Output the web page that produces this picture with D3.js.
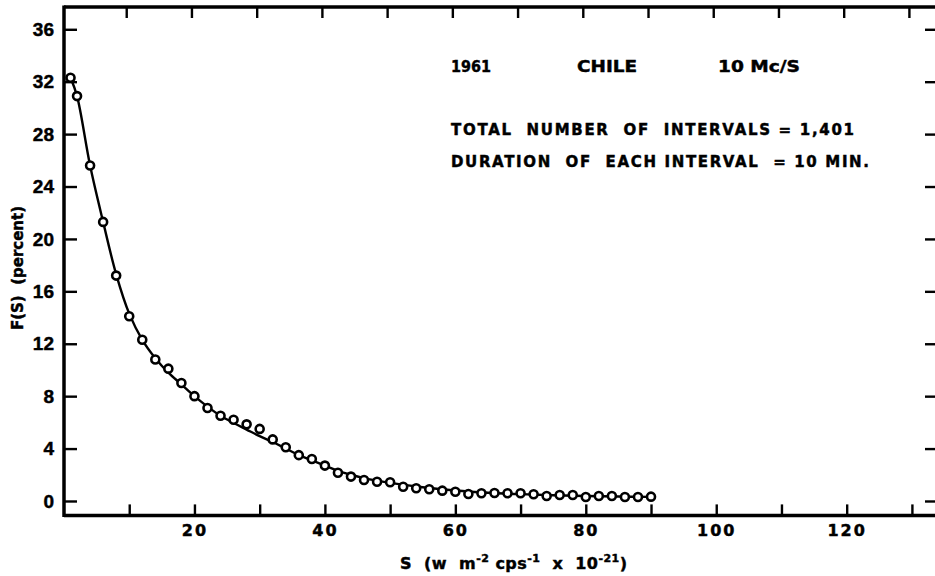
<!DOCTYPE html>
<html>
<head>
<meta charset="utf-8">
<script src="https://cdn.jsdelivr.net/npm/d3@7/dist/d3.min.js"></script>
<style>
  html, body { margin: 0; padding: 0; background: #fff; }
  svg { display: block; }
  text { font-family: "Liberation Sans", Arial, sans-serif; font-weight: bold; fill: #000; }
  .wide { font-family: "DejaVu Sans", "Liberation Sans", sans-serif; }
  .heavy { stroke: #000; stroke-width: 0.45px; }
</style>
</head>
<body>
<svg id="chart" width="935" height="576"></svg>
<script>
// Observed cumulative distribution F(S) of flux density, 1961 Chile, 10 Mc/s
const sValues = [1, 2, 4, 6, 8, 10, 12, 14, 16, 18, 20, 22, 24, 26, 28, 30, 32, 34, 36, 38,
  40, 42, 44, 46, 48, 50, 52, 54, 56, 58, 60, 62, 64, 66, 68, 70, 72, 74, 76, 78,
  80, 82, 84, 86, 88, 90];
const fValues = [32.3, 30.9, 25.6, 21.3, 17.2, 14.1, 12.3, 10.8, 10.1, 9.0, 8.0, 7.1, 6.5, 6.2, 5.85, 5.5, 4.7, 4.1, 3.5, 3.2,
  2.7, 2.15, 1.86, 1.6, 1.47, 1.43, 1.09, 0.97, 0.89, 0.79, 0.71, 0.53, 0.59, 0.61, 0.59, 0.59, 0.51, 0.38, 0.46, 0.46,
  0.3, 0.38, 0.38, 0.3, 0.3, 0.33];

// Smooth fitted curve through the observations
const fitS = [1, 2, 4, 6, 8, 10, 12, 14, 16, 18, 20, 22, 24, 26, 28, 30, 32, 34, 36, 38, 40, 42, 44, 46, 48, 50,
  55, 60, 65, 70, 75, 80, 85, 90];
const fitF = [32.3, 30.9, 25.6, 21.3, 17.3, 14.3, 12.3, 10.9, 9.8, 8.9, 8.0, 7.2, 6.5, 5.95, 5.45, 4.95, 4.5, 4.0, 3.5, 3.1, 2.7, 2.3, 2.0, 1.75, 1.55, 1.38,
  1.05, 0.8, 0.63, 0.52, 0.44, 0.38, 0.34, 0.31];

const xTicks = [10, 20, 30, 40, 50, 60, 70, 80, 90, 100, 110, 120, 130];
const xLabelled = [20, 40, 60, 80, 100, 120];
const yTicks = [0, 4, 8, 12, 16, 20, 24, 28, 32, 36];

const headerTexts = ["1961", "CHILE", "10 Mc/S"];
const noteTexts = ["TOTAL  NUMBER  OF  INTERVALS = 1,401", "DURATION  OF  EACH INTERVAL  = 10 MIN."];

const svg = d3.select("#chart");

const x = d3.scaleLinear().domain([0, 134]).range([64, 938]);
const y = d3.scaleLinear().domain([-1.1, 37.7]).range([515.4, 7]);

const frame = svg.append("g");

// Bottom axis with inward ticks
const gx = frame.append("g").attr("transform", `translate(0,${y.range()[0]})`)
  .call(d3.axisBottom(x).tickValues(xTicks).tickSize(-11).tickPadding(9)
    .tickFormat(d => xLabelled.includes(d) ? d : ""));

// Top axis, ticks only
const gxt = frame.append("g").attr("transform", `translate(-3,${y.range()[1]})`)
  .call(d3.axisTop(x).tickValues(xTicks).tickSize(-11).tickFormat(""));

// Left axis with inward ticks
const gy = frame.append("g").attr("transform", `translate(${x.range()[0]},0)`)
  .call(d3.axisLeft(y).tickValues(yTicks).tickSize(-13).tickPadding(10));

// Right axis, ticks only
const gyr = frame.append("g").attr("transform", `translate(${x.range()[1]},0)`)
  .call(d3.axisRight(y).tickValues(yTicks).tickSize(-13).tickFormat(""));

[gx, gxt, gy, gyr].forEach(g => {
  g.attr("font-size", null).attr("font-family", null);
  g.select(".domain").attr("stroke", "#000").attr("stroke-width", 3.5);
  g.selectAll(".tick line").attr("stroke", "#000").attr("stroke-width", 2.4);
  g.selectAll(".tick text").attr("fill", "#000").classed("heavy", true);
});
gy.selectAll(".tick text").style("font-size", "19px");
gx.selectAll(".tick text").classed("wide", true).style("font-size", "16px").style("letter-spacing", "2px");
gx.select(".domain").attr("d", `M${x.range()[0]},0H${x.range()[1]}`);
gxt.select(".domain").attr("d", `M${x.range()[0] + 3},0H${x.range()[1] + 3}`);
gy.select(".domain").attr("d", `M0,${y.range()[0] + 1.5}V${y.range()[1] - 1.5}`);
gyr.select(".domain").attr("d", `M0,${y.range()[0]}V${y.range()[1]}`);

// Fitted curve
const line = d3.line().x((d, i) => x(fitS[i])).y(d => y(d)).curve(d3.curveCatmullRom.alpha(0.5));
svg.append("path").datum(fitF)
  .attr("d", line)
  .attr("fill", "none").attr("stroke", "#000").attr("stroke-width", 2.4);

// Observed points
svg.append("g").selectAll("circle").data(fValues).join("circle")
  .attr("cx", (d, i) => x(sValues[i]))
  .attr("cy", d => y(d))
  .attr("r", 4)
  .attr("fill", "#fff").attr("stroke", "#000").attr("stroke-width", 2.6);

// Header line
const headerX = [451, 577, 718];
svg.append("g").selectAll("text").data(headerTexts).join("text")
  .attr("class", "wide heavy")
  .attr("x", (d, i) => headerX[i]).attr("y", 72)
  .style("font-size", "16px")
  .attr("textLength", (d, i) => [40, 60, 82][i]).attr("lengthAdjust", "spacingAndGlyphs")
  .text(d => d);

// Notes
svg.append("g").selectAll("text").data(noteTexts).join("text")
  .attr("class", "wide heavy")
  .attr("x", 451).attr("y", (d, i) => [135, 167][i])
  .style("font-size", "15px")
  .style("white-space", "pre")
  .attr("textLength", (d, i) => [403, 418][i]).attr("lengthAdjust", "spacing")
  .text(d => d);

// Axis titles
const xt = svg.append("text").attr("class", "wide heavy").attr("x", 400).attr("y", 569)
  .style("font-size", "16px").style("white-space", "pre")
  .attr("textLength", 227).attr("lengthAdjust", "spacing");
xt.append("tspan").text("S  (w  m");
xt.append("tspan").attr("dy", -7).style("font-size", "11px").text("-2");
xt.append("tspan").attr("dy", 7).text(" cps");
xt.append("tspan").attr("dy", -7).style("font-size", "11px").text("-1");
xt.append("tspan").attr("dy", 7).text("  x  10");
xt.append("tspan").attr("dy", -7).style("font-size", "11px").text("-21");
xt.append("tspan").attr("dy", 7).text(")");

svg.append("text")
  .attr("class", "wide heavy")
  .attr("transform", "translate(23,268) rotate(-90)")
  .attr("text-anchor", "middle")
  .style("font-size", "15px").style("white-space", "pre")
  .text("F(S)  (percent)");
</script>
</body>
</html>
